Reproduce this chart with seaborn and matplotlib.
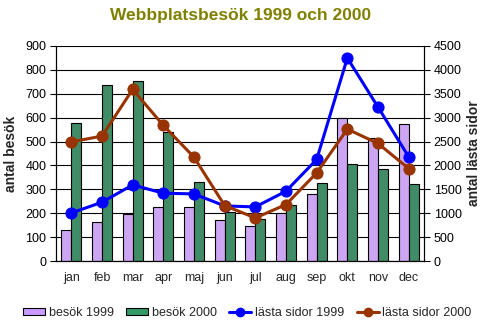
import matplotlib
matplotlib.use("Agg")
import matplotlib.pyplot as plt
import seaborn as sns
import pandas as pd
from matplotlib.lines import Line2D
from matplotlib.patches import Patch

months = ["jan", "feb", "mar", "apr", "maj", "jun", "jul", "aug", "sep", "okt", "nov", "dec"]
besok_1999 = [131, 165, 198, 224, 224, 173, 148, 203, 282, 600, 516, 575]
besok_2000 = [579, 738, 755, 538, 332, 207, 177, 233, 328, 408, 387, 324]
sidor_1999 = [1006, 1230, 1593, 1419, 1404, 1153, 1132, 1461, 2125, 4249, 3222, 2180]
sidor_2000 = [2494, 2614, 3592, 2838, 2173, 1160, 901, 1182, 1844, 2760, 2460, 1936]

c_p = "#CC99FF"
c_g = "#339966"
c_b = "#0000FF"
c_r = "#993300"

sns.set_style("white")
plt.rcParams["font.family"] = ["Liberation Sans", "DejaVu Sans"]

bars = pd.DataFrame({
    "month": months * 2,
    "value": besok_1999 + besok_2000,
    "serie": ["besök 1999"] * 12 + ["besök 2000"] * 12,
})
lines = pd.DataFrame({
    "month": months * 2,
    "value": sidor_1999 + sidor_2000,
    "serie": ["lästa sidor 1999"] * 12 + ["lästa sidor 2000"] * 12,
})

fig = plt.figure(figsize=(4.85, 3.26), dpi=100)
ax = fig.add_axes([56/485, 1 - 261/326, (424-56)/485, (261-46)/326])
sns.barplot(data=bars, x="month", y="value", hue="serie", order=months,
            palette=[c_p, c_g], width=0.66, edgecolor="black", linewidth=0.8,
            ax=ax, legend=False, gap=0.03)
ax.set_ylim(0, 900)
ax.set_yticks(range(0, 901, 100))
ax.set_axisbelow(True)
ax.yaxis.grid(True, color="black", linewidth=0.8)
ax.set_xlabel("")
ax.set_ylabel("antal besök", fontsize=10, fontweight="bold", labelpad=5)

ax2 = ax.twinx()
for serie, col in [("lästa sidor 1999", c_b), ("lästa sidor 2000", c_r)]:
    d = lines[lines["serie"] == serie]
    sns.lineplot(data=d, x="month", y="value", color=col, marker="o",
                 markersize=8, linewidth=2.2, markeredgecolor=col, ax=ax2,
                 sort=False)
ax2.set_ylim(0, 4500)
ax2.set_yticks(range(0, 4501, 500))
ax2.set_ylabel("antal lästa sidor", fontsize=10, fontweight="bold", labelpad=4)
ax2.set_xlabel("")
ax.set_xlim(-0.5, 11.5)
ax2.set_xlim(-0.5, 11.5)

for a in (ax, ax2):
    for s in a.spines.values():
        s.set_color("black")
        s.set_linewidth(0.8)
    a.spines["top"].set_visible(False)
    a.tick_params(axis="y", labelsize=9, length=4, width=0.8, direction="out", pad=3, colors="black")

ax.tick_params(axis="x", labelsize=9, length=0, pad=8)
ax.set_xticks(range(12))
ax.set_xticklabels(months)
ax.set_xticks([i + 0.5 for i in range(-1, 12)], minor=True)
ax.tick_params(axis="x", which="minor", length=4, width=0.8, direction="out")
ax2.tick_params(axis="x", length=0)

fig.suptitle("Webbplatsbesök 1999 och 2000", x=0.495, y=0.975, fontsize=12.5,
             fontweight="bold", color="#808000")

handles = [
    Patch(facecolor=c_p, edgecolor="black", linewidth=0.8, label="besök 1999"),
    Patch(facecolor=c_g, edgecolor="black", linewidth=0.8, label="besök 2000"),
    Line2D([], [], color=c_b, marker="o", markersize=6, linewidth=2.2, label="lästa sidor 1999"),
    Line2D([], [], color=c_r, marker="o", markersize=6, linewidth=2.2, label="lästa sidor 2000"),
]
fig.legend(handles=handles, loc="center", bbox_to_anchor=(0.51, 1 - 313/326),
           ncol=4, frameon=False, fontsize=9, handlelength=1.75, handleheight=0.5,
           handletextpad=0.3, columnspacing=1.0)

fig.savefig("out.png", dpi=100, facecolor="white")
